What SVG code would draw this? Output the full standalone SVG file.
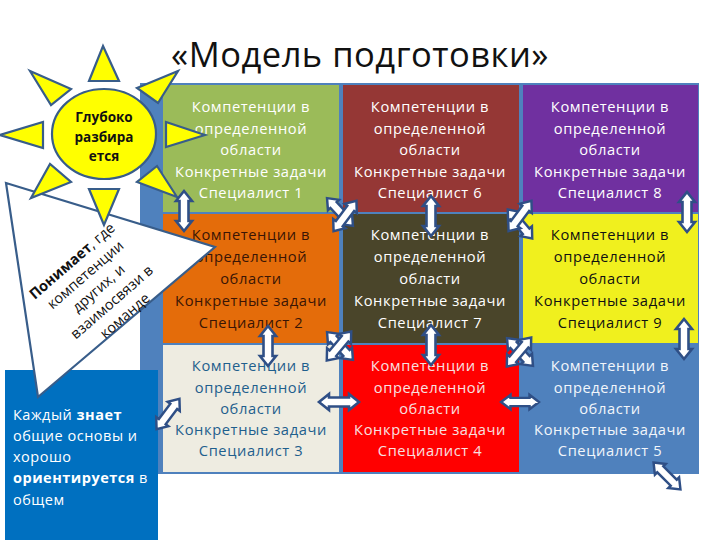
<svg xmlns="http://www.w3.org/2000/svg" width="720" height="540" viewBox="0 0 720 540">
<style>
text{font-family:"Open Sans","Noto Sans",sans-serif}
.c text{font-size:14.7px;text-anchor:middle;letter-spacing:.6px}
.ray{fill:#ffff00;stroke:#385d8a;stroke-width:2.2}
.arr{fill:#fff;stroke:#2f4f86;stroke-width:2.6;stroke-linejoin:miter}
</style>
<defs>
<path id="a" d="M0,-20 L8,-10 L4.5,-10 L4.5,10 L8,10 L0,20 L-8,10 L-4.5,10 L-4.5,-10 L-8,-10 Z"/>
</defs>
<rect width="720" height="540" fill="#fff"/>
<text x="360" y="67" font-size="34.5" text-anchor="middle" fill="#111" letter-spacing=".5">«Модель подготовки»</text>
<rect id="panel" x="140" y="83" width="559" height="391" fill="#4f81bd"/>
<g id="cell1" class="c" fill="#fff"><rect x="163" y="85" width="176" height="127" fill="#9bbb59"/><text><tspan x="251" y="112">Компетенции в</tspan><tspan x="251" y="134">определенной</tspan><tspan x="251" y="155">области</tspan><tspan x="251" y="177">Конкретные задачи</tspan><tspan x="251" y="198">Специалист 1</tspan></text></g>
<g id="cell6" class="c" fill="#fff"><rect x="343" y="85" width="176" height="127" fill="#953735"/><text><tspan x="430" y="112">Компетенции в</tspan><tspan x="430" y="134">определенной</tspan><tspan x="430" y="155">области</tspan><tspan x="430" y="177">Конкретные задачи</tspan><tspan x="430" y="198">Специалист 6</tspan></text></g>
<g id="cell8" class="c" fill="#fff"><rect x="523" y="85" width="175" height="127" fill="#7030a0"/><text><tspan x="610" y="112">Компетенции в</tspan><tspan x="610" y="134">определенной</tspan><tspan x="610" y="155">области</tspan><tspan x="610" y="177">Конкретные задачи</tspan><tspan x="610" y="198">Специалист 8</tspan></text></g>
<g id="cell2" class="c" fill="#3a1505"><rect x="163" y="214" width="176" height="129" fill="#e46c0a"/><text><tspan x="251" y="240">Компетенции в</tspan><tspan x="251" y="262">определенной</tspan><tspan x="251" y="284">области</tspan><tspan x="251" y="306">Конкретные задачи</tspan><tspan x="251" y="328">Специалист 2</tspan></text></g>
<g id="cell7" class="c" fill="#fff"><rect x="343" y="214" width="176" height="129" fill="#4a452a"/><text><tspan x="430" y="240">Компетенции в</tspan><tspan x="430" y="262">определенной</tspan><tspan x="430" y="284">области</tspan><tspan x="430" y="306">Конкретные задачи</tspan><tspan x="430" y="328">Специалист 7</tspan></text></g>
<g id="cell9" class="c" fill="#111"><rect x="523" y="214" width="175" height="129" fill="#f0f01e"/><text><tspan x="610" y="240">Компетенции в</tspan><tspan x="610" y="262">определенной</tspan><tspan x="610" y="284">области</tspan><tspan x="610" y="306">Конкретные задачи</tspan><tspan x="610" y="328">Специалист 9</tspan></text></g>
<g id="cell3" class="c" fill="#1f5f8d"><rect x="163" y="345" width="176" height="127" fill="#eeece1"/><text><tspan x="251" y="371">Компетенции в</tspan><tspan x="251" y="393">определенной</tspan><tspan x="251" y="414">области</tspan><tspan x="251" y="435">Конкретные задачи</tspan><tspan x="251" y="456">Специалист 3</tspan></text></g>
<g id="cell4" class="c" fill="#f8e0e0"><rect x="343" y="345" width="176" height="127" fill="#ff0000"/><text><tspan x="430" y="371">Компетенции в</tspan><tspan x="430" y="393">определенной</tspan><tspan x="430" y="414">области</tspan><tspan x="430" y="435">Конкретные задачи</tspan><tspan x="430" y="456">Специалист 4</tspan></text></g>
<g id="cell5" class="c" fill="#f2f6fb"><rect x="523" y="345" width="175" height="127" fill="#4f81bd"/><text><tspan x="610" y="371">Компетенции в</tspan><tspan x="610" y="393">определенной</tspan><tspan x="610" y="414">области</tspan><tspan x="610" y="435">Конкретные задачи</tspan><tspan x="610" y="456">Специалист 5</tspan></text></g>
<g id="knows">
<rect x="5" y="370" width="153" height="170" fill="#0070c0"/>
<g font-size="14.5" fill="#fff" letter-spacing=".5"><text x="13" y="420">Каждый <tspan font-weight="700">знает</tspan></text><text x="13" y="441">общие основы и</text><text x="13" y="462">хорошо</text><text x="13" y="483"><tspan font-weight="700">ориентируется</tspan> в</text><text x="13" y="505">общем</text></g>
</g>
<g id="understands">
<polygon points="6,183 215,247 38,397" fill="#fff" stroke="#385d8a" stroke-width="2.2"/>
<g font-size="14.5" text-anchor="middle" fill="#111" transform="translate(72,261) rotate(-41)">
<text x="0" y="5"><tspan font-weight="700">Понимает</tspan>, где</text>
<text x="1" y="24">компетенции</text>
<text x="2" y="43">других, и</text>
<text x="3" y="62">взаимосвязи в</text>
<text x="4" y="81">команде</text>
</g>
</g>
<g id="sun">
<polygon class="ray" points="103,46 119,81 89,81"/>
<polygon class="ray" points="30,71 71,89 51,105"/>
<polygon class="ray" points="178,71 137,88 158,103"/>
<polygon class="ray" points="0,135 43,122 43,148"/>
<polygon class="ray" points="205,135 166,122 166,147"/>
<polygon class="ray" points="31,198 50,164 71,182"/>
<polygon class="ray" points="177,197 137,182 157,166"/>
<polygon class="ray" points="104,225 89,189 119,189"/>
<ellipse cx="104" cy="134" rx="52" ry="45" fill="#ffff00" stroke="#385d8a" stroke-width="2.2"/>
<g font-size="13.5" font-weight="700" text-anchor="middle" fill="#111"><text x="104" y="122">Глубоко</text><text x="104" y="142">разбира</text><text x="104" y="161">ется</text></g>
</g>
<g id="connectors" class="arr">
<use href="#a" transform="translate(184,211)"/>
<use href="#a" transform="translate(268,346)"/>
<use href="#a" transform="translate(431,216)"/>
<use href="#a" transform="translate(431,345)"/>
<use href="#a" transform="translate(687,212)"/>
<use href="#a" transform="translate(684,339)"/>
<use href="#a" transform="translate(667,476) rotate(-45) scale(.95)"/>
<use href="#a" transform="translate(168,414) rotate(37) scale(.95)"/>
<use href="#a" transform="translate(339,402) rotate(90)"/>
<use href="#a" transform="translate(520,402) rotate(90) scale(.9 .95)"/>
<use href="#a" transform="translate(340,212) rotate(-43) scale(.95)"/>
<use href="#a" transform="translate(345,216) rotate(37) scale(.95)"/>
<use href="#a" transform="translate(520,224) rotate(-40) scale(.95)"/>
<use href="#a" transform="translate(520,216) rotate(37) scale(.95)"/>
<use href="#a" transform="translate(340,346) rotate(-43) scale(.95)"/>
<use href="#a" transform="translate(339,346) rotate(40) scale(.95)"/>
<use href="#a" transform="translate(520,352) rotate(-43) scale(.95)"/>
<use href="#a" transform="translate(519,352) rotate(40) scale(.95)"/>
</g>
</svg>
